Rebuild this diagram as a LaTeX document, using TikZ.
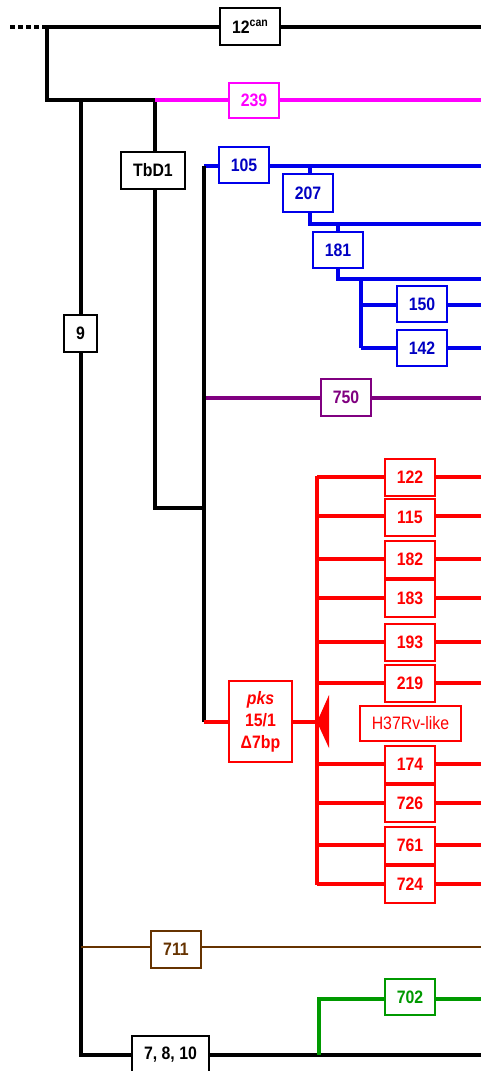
\documentclass[tikz,border=0pt]{standalone}
\usepackage{fontspec}
\setmainfont{Liberation Sans}[FakeStretch=0.88]
\definecolor{mag}{RGB}{255,0,255}
\definecolor{bl}{RGB}{0,0,235}
\definecolor{bltext}{RGB}{0,0,195}
\definecolor{pur}{RGB}{128,0,128}
\definecolor{rd}{RGB}{255,0,0}
\definecolor{brn}{RGB}{102,51,0}
\definecolor{grn}{RGB}{0,153,0}
\begin{document}
\begin{tikzpicture}[x=0.75pt,y=-0.75pt,
  box/.style={draw, fill=white, line width=1.5pt, inner sep=0pt,
    minimum width=37.5pt, minimum height=27pt,
    font=\bfseries\fontsize{13.5}{16}\selectfont},
  kbox/.style={box, draw=black, text=black},
  mbox/.style={box, draw=mag, text=mag},
  bbox/.style={box, draw=bl, text=bltext},
  pbox/.style={box, draw=pur, text=pur},
  rbox/.style={box, draw=rd, text=rd},
  nbox/.style={box, draw=brn, text=brn},
  gbox/.style={box, draw=grn, text=grn},
  kline/.style={draw=black, line width=2.7pt},
  mline/.style={draw=mag, line width=2.4pt},
  bline/.style={draw=bl, line width=2.3pt},
  pline/.style={draw=pur, line width=2.3pt},
  rline/.style={draw=rd, line width=2.3pt},
  nline/.style={draw=brn, line width=1.9pt},
  gline/.style={draw=grn, line width=2.3pt}]
\useasboundingbox (0,0) rectangle (481,1071);
% coordinates
\coordinate (dotL) at (10,27);
\coordinate (j0) at (47,27);
\coordinate (topR) at (481,27);
\coordinate (j1) at (47,100);
\coordinate (j9) at (81,100);
\coordinate (jT) at (155,100);
\coordinate (magR) at (481,100);
\coordinate (bot9) at (81,1055);
\coordinate (botR) at (481,1055);
\coordinate (tbdB) at (155,508);
\coordinate (jA) at (204,508);
\coordinate (jAtop) at (204,166);
\coordinate (jAbot) at (204,722);
\coordinate (r105) at (481,166);
\coordinate (j207) at (310,166);
\coordinate (j207b) at (310,224);
\coordinate (r207) at (481,224);
\coordinate (j181) at (338,224);
\coordinate (j181b) at (338,279);
\coordinate (r181) at (481,279);
\coordinate (j15) at (361,279);
\coordinate (j150) at (361,305);
\coordinate (j142) at (361,348);
\coordinate (r150) at (481,305);
\coordinate (r142) at (481,348);
\coordinate (j750) at (204,398);
\coordinate (r750) at (481,398);
\coordinate (rtop) at (317,477);
\coordinate (rbot) at (317,884);
\coordinate (jpks) at (317,722);
\coordinate (j711) at (81,947);
\coordinate (r711) at (481,947);
\coordinate (gB) at (319,1055);
\coordinate (gT) at (319,999);
\coordinate (r702) at (481,999);

% lines
\draw[kline, dash pattern=on 3.6pt off 2.4pt] (dotL) -- (j0);
\draw[kline, line join=miter] (topR) -- (j0) -- (j1) -- (jT);
\draw[kline, line join=miter] (j9) -- (bot9) -- (botR);
\draw[kline, line join=miter] (jT) -- (tbdB) -- (jA);
\draw[mline] (jT) -- (magR);
\draw[bline] (jAtop) -- (r105);
\draw[bline, line join=miter] (j207) -- (j207b) -- (r207);
\draw[bline, line join=miter] (j181) -- (j181b) -- (r181);
\draw[bline, line width=2.8pt] (j15) -- (j142);
\draw[bline] (j150) -- (r150);
\draw[bline] (j142) -- (r142);
\draw[pline] (j750) -- (r750);
\draw[kline] (jAtop) -- (jAbot);
\draw[rline] (jAbot) -- (jpks);
\draw[gline, line join=miter] (gB) -- (gT) -- (r702);
\draw[nline] (j711) -- (r711);
\foreach \n/\y in {122/477, 115/516, 182/559, 183/598, 193/642, 219/683,
                   174/764, 726/803, 761/845, 724/884}{
  \coordinate (L\n) at (317,\y);
  \coordinate (R\n) at (481,\y);
  \draw[rline] (L\n) -- (R\n);
}
\draw[draw=rd, line width=3pt] ([yshift=0.9pt]rtop) -- ([yshift=-0.9pt]rbot);
\fill[rd] (jpks) -- ++(12,-27) -- ++(0,53) -- cycle;

% boxes
\node[kbox, minimum width=45pt, minimum height=27.75pt] (n12) at (250,26.5)
  {12\raisebox{5.5pt}{\fontsize{9}{9}\selectfont can}};
\node[mbox, minimum height=26.25pt] (n239) at (254,100.5) {239};
\node[kbox, minimum width=48pt, minimum height=27.75pt] (tbd) at (153,170.5) {TbD1};
\node[kbox, minimum width=24.75pt, minimum height=27.75pt] (n9) at (80.5,333.5) {9};
\node[bbox] (n105) at (244,165) {105};
\node[bbox, minimum height=28.5pt] (n207) at (308,193) {207};
\node[bbox] (n181) at (338,250) {181};
\node[bbox] (n150) at (422,304) {150};
\node[bbox] (n142) at (422,348) {142};
\node[pbox, minimum height=27.75pt] (n750) at (346,397.5) {750};
\foreach \n/\y in {122/477.5, 115/517, 182/559, 183/598, 193/642, 219/683,
                   174/764, 726/803, 761/845, 724/884}{
  \node[rbox, minimum height=27.75pt] (n\n) at (410,\y) {\n};
}
\node[rbox, minimum width=75.75pt, minimum height=26.25pt,
      font=\fontsize{13.5}{16}\selectfont] (h37) at (410.5,723.5) {H37Rv-like};
\node[rbox, minimum width=47.25pt, minimum height=60.75pt, align=center,
      font=\bfseries\fontsize{13.5}{16.5}\selectfont] (pks) at (260.5,721.5)
  {\textit{pks}\\15/1\\Δ7bp};
\node[nbox, minimum height=27.75pt] (n711) at (176,949.5) {711};
\node[kbox, minimum width=57.75pt, minimum height=28.5pt] (n7810) at (170.5,1055) {7, 8, 10};
\node[gbox] (n702) at (410,997) {702};
\end{tikzpicture}
\end{document}
